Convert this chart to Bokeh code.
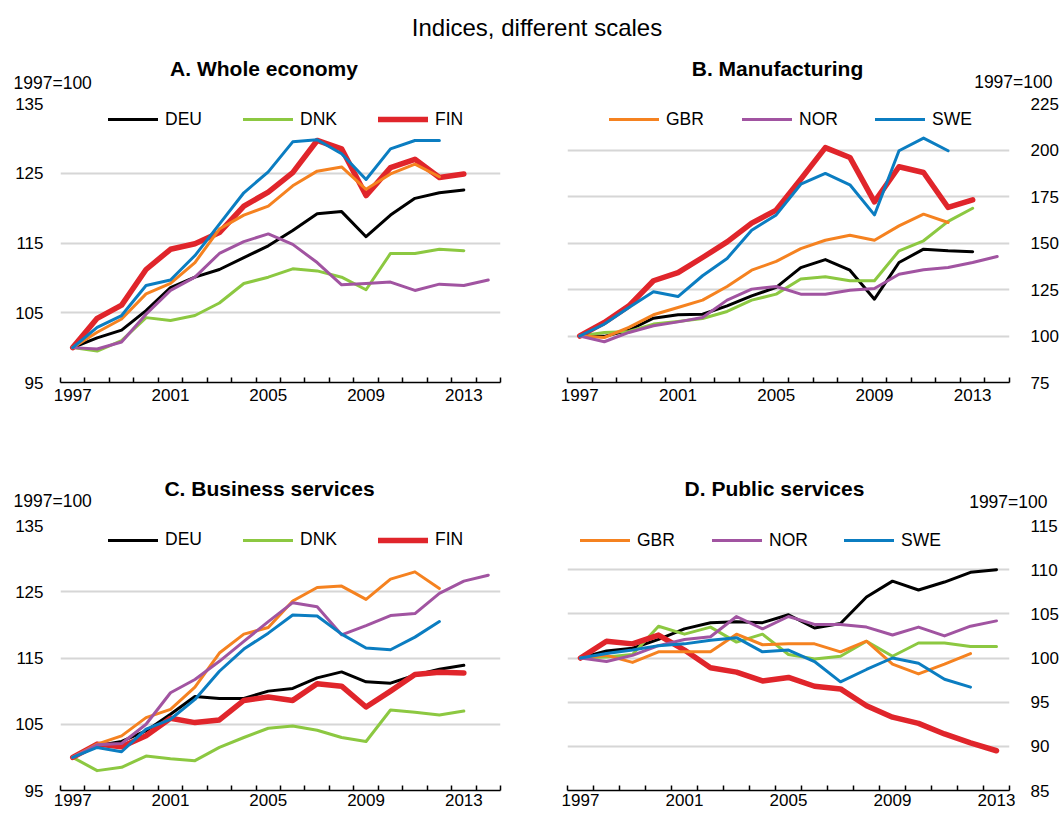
from bokeh.plotting import figure
from bokeh.models import FixedTicker, Legend, LegendItem, Label, Range1d
from bokeh.layouts import column, row
from bokeh.embed import file_html
from bokeh.resources import INLINE

YEARS = list(range(1997, 2015))
SERIES = ["DEU", "DNK", "FIN", "GBR", "NOR", "SWE"]
COLORS = {"DEU": "#000000", "DNK": "#8cc841", "FIN": "#e0252b",
          "GBR": "#f58220", "NOR": "#a154a1", "SWE": "#0b7dc1"}
WIDTHS = {"DEU": 3, "DNK": 3, "FIN": 5.5, "GBR": 3, "NOR": 3, "SWE": 3}

MAIN_TITLE = "Indices, different scales"
UNIT = "1997=100"
X_LABEL_YEARS = [1997, 2001, 2005, 2009, 2013]

# A. Whole economy
A_TITLE = "A. Whole economy"
A_TICKS = [95, 105, 115, 125, 135]
A_DATA = {
    "DEU": [100, 101.4, 102.5, 105.3, 108.6, 110.1, 111.2, 112.9, 114.6, 116.8, 119.2, 119.5, 115.9, 119.0, 121.4, 122.2, 122.6],
    "DNK": [100, 99.5, 101.0, 104.3, 103.9, 104.6, 106.4, 109.2, 110.1, 111.3, 111.0, 110.1, 108.3, 113.5, 113.5, 114.1, 113.9],
    "FIN": [100, 104.2, 106.1, 111.2, 114.1, 114.9, 116.5, 120.3, 122.3, 125.1, 129.7, 128.5, 121.8, 125.8, 127.0, 124.4, 124.9],
    "GBR": [100, 102.2, 104.1, 107.7, 109.2, 112.2, 117.0, 119.0, 120.3, 123.2, 125.3, 125.9, 122.7, 124.9, 126.3, 124.5],
    "NOR": [100, 99.8, 100.8, 104.8, 108.2, 110.1, 113.5, 115.2, 116.3, 114.8, 112.2, 109.0, 109.2, 109.4, 108.2, 109.1, 108.9, 109.7],
    "SWE": [100, 102.9, 104.6, 108.9, 109.7, 113.2, 117.7, 122.2, 125.2, 129.5, 129.8, 127.8, 124.1, 128.5, 129.7, 129.7],
}

# B. Manufacturing
B_TITLE = "B. Manufacturing"
B_TICKS = [75, 100, 125, 150, 175, 200, 225]
B_DATA = {
    "DEU": [100, 99.8, 103.1, 109.6, 111.4, 111.7, 116.2, 121.6, 126.1, 136.8, 141.1, 135.4, 119.8, 139.5, 146.7, 145.8, 145.3],
    "DNK": [100, 101.9, 102.4, 106.4, 107.8, 109.4, 113.2, 119.3, 122.5, 130.6, 131.8, 129.7, 129.7, 145.8, 151.2, 161.6, 168.7],
    "FIN": [100, 107.3, 116.2, 129.7, 134.1, 142.2, 150.6, 160.7, 167.7, 184.3, 201.3, 196.0, 172.1, 191.0, 187.9, 169.1, 173.2],
    "GBR": [100, 99.2, 104.6, 111.4, 115.3, 119.3, 126.6, 135.4, 140.1, 147.0, 151.5, 154.2, 151.5, 159.2, 165.5, 161.0],
    "NOR": [100, 96.9, 101.9, 105.5, 107.6, 110.0, 119.3, 125.2, 126.6, 122.5, 122.5, 124.6, 125.5, 133.2, 135.6, 136.8, 139.5, 142.7],
    "SWE": [100, 106.4, 115.3, 123.8, 121.2, 132.4, 141.7, 156.9, 165.1, 181.6, 187.4, 181.3, 165.1, 199.6, 206.4, 199.6],
}

# C. Business services
C_TITLE = "C. Business services"
C_TICKS = [95, 105, 115, 125, 135]
C_DATA = {
    "DEU": [100, 101.75, 102.4, 104.0, 106.5, 109.2, 108.9, 108.9, 110.0, 110.4, 112.0, 112.9, 111.4, 111.2, 112.4, 113.3, 113.9],
    "DNK": [100, 98.0, 98.5, 100.2, 99.8, 99.5, 101.5, 103.0, 104.4, 104.75, 104.1, 103.0, 102.4, 107.15, 106.8, 106.4, 107.0],
    "FIN": [100, 102.0, 101.6, 103.25, 105.9, 105.25, 105.65, 108.6, 109.1, 108.6, 111.1, 110.75, 107.6, 110.0, 112.5, 112.85, 112.75],
    "GBR": [100, 102.0, 103.25, 106.0, 107.25, 110.6, 115.75, 118.6, 119.6, 123.6, 125.65, 125.85, 123.85, 126.9, 128.0, 125.5],
    "NOR": [100, 101.9, 102.1, 105.0, 109.75, 111.75, 114.5, 117.5, 120.5, 123.35, 122.75, 118.5, 119.9, 121.4, 121.7, 124.75, 126.6, 127.5],
    "SWE": [100, 101.5, 100.85, 104.25, 105.75, 108.75, 113.0, 116.35, 118.75, 121.5, 121.35, 118.6, 116.5, 116.25, 118.15, 120.5],
}

# D. Public services
D_TITLE = "D. Public services"
D_TICKS = [85, 90, 95, 100, 105, 110, 115]
D_DATA = {
    "DEU": [100, 100.8, 101.1, 102.1, 103.3, 104.0, 104.1, 104.0, 104.9, 103.4, 103.9, 106.9, 108.7, 107.7, 108.6, 109.7, 110.0],
    "DNK": [100, 100.1, 100.4, 103.6, 102.7, 103.5, 101.8, 102.7, 100.4, 99.9, 100.2, 101.9, 100.2, 101.7, 101.7, 101.3, 101.3],
    "FIN": [100, 101.9, 101.6, 102.6, 100.9, 98.9, 98.4, 97.4, 97.8, 96.8, 96.5, 94.6, 93.3, 92.6, 91.4, 90.4, 89.5],
    "GBR": [100, 100.3, 99.5, 100.7, 100.7, 100.7, 102.7, 101.5, 101.6, 101.6, 100.7, 101.9, 99.3, 98.2, 99.3, 100.5],
    "NOR": [100, 99.6, 100.3, 101.4, 102.1, 102.4, 104.7, 103.3, 104.7, 103.8, 103.8, 103.5, 102.6, 103.5, 102.5, 103.6, 104.2],
    "SWE": [100, 100.5, 100.9, 101.4, 101.6, 102.0, 102.3, 100.7, 100.9, 99.6, 97.3, 98.7, 100.0, 99.4, 97.6, 96.7],
}

SANS = "Liberation Sans"
TICK_FONT = "17px"
SMALL_FONT = "17.5px"


def panel(data, ticks, last_year, side, legend_keys, cfg):
    w, h = cfg["w"], cfg["h"]
    bl, br, bt, bb = cfg["bl"], cfg["br"], cfg["bt"], cfg["bb"]
    fh = h - bt - bb
    p = figure(width=w, height=h, output_backend="svg", toolbar_location=None,
               x_range=Range1d(YEARS[0] - 0.5, last_year + 0.5),
               y_range=Range1d(ticks[0], ticks[-1]),
               y_axis_location=side,
               min_border_left=bl, min_border_right=br,
               min_border_top=bt, min_border_bottom=bb)
    p.outline_line_color = None
    p.background_fill_color = "white"
    p.border_fill_color = "white"
    p.xgrid.visible = False
    p.ygrid.ticker = FixedTicker(ticks=ticks)
    p.ygrid.grid_line_color = "#d6d6d6"
    p.ygrid.grid_line_width = 2

    xa = p.xaxis[0]
    xa.ticker = FixedTicker(ticks=X_LABEL_YEARS,
                            minor_ticks=[y - 0.5 for y in range(YEARS[0], last_year + 2)])
    xa.axis_line_color = "black"
    xa.axis_line_width = 1.6
    xa.major_tick_in = 0
    xa.major_tick_out = 0
    xa.major_tick_line_color = None
    xa.minor_tick_in = 5
    xa.minor_tick_out = 0
    xa.minor_tick_line_color = "black"
    xa.minor_tick_line_width = 1.5
    xa.major_label_standoff = cfg["xstand"]
    xa.major_label_text_font = SANS
    xa.major_label_text_font_size = TICK_FONT
    xa.major_label_text_color = "black"

    ya = p.yaxis[0]
    ya.ticker = FixedTicker(ticks=ticks)
    ya.axis_line_color = None
    ya.major_tick_line_color = None
    ya.minor_tick_line_color = None
    ya.major_tick_in = 0
    ya.major_tick_out = 0
    ya.minor_tick_in = 0
    ya.minor_tick_out = 0
    ya.major_label_standoff = cfg["ystand"]
    ya.major_label_text_font = SANS
    ya.major_label_text_font_size = TICK_FONT
    ya.major_label_text_color = "black"

    rends = {}
    for k in SERIES:
        vals = data[k]
        rends[k] = p.line(YEARS[:len(vals)], vals, line_color=COLORS[k],
                          line_width=WIDTHS[k], line_join="round", line_cap="round")

    items = [LegendItem(label=k, renderers=[rends[k]]) for k in legend_keys]
    leg = Legend(items=items, orientation="horizontal",
                 location=(cfg["lx"], fh - cfg["ly"] - 12),
                 padding=0, margin=0, spacing=cfg["lsp"],
                 glyph_width=50, glyph_height=24, label_height=24,
                 label_width=cfg["lw"], label_standoff=7,
                 border_line_color=None, background_fill_alpha=0,
                 label_text_font=SANS, label_text_font_size=SMALL_FONT,
                 label_text_color="black")
    p.add_layout(leg)
    return p


def header(w, h, entries):
    f = figure(width=w, height=h, output_backend="svg", toolbar_location=None,
               x_range=Range1d(0, w), y_range=Range1d(h, 0),
               x_axis_type=None, y_axis_type=None, min_border=0)
    f.outline_line_color = None
    f.background_fill_color = "white"
    f.border_fill_color = "white"
    for text, x, y, align, size, style in entries:
        f.add_layout(Label(x=x, y=y, text=text, text_font=SANS, text_font_size=size,
                           text_font_style=style, text_align=align,
                           text_baseline="middle", text_color="black"))
    return f


TOTAL_W = 1061
head1 = header(TOTAL_W, 91, [
    (MAIN_TITLE, 536.5, 26.5, "center", "24px", "normal"),
    (A_TITLE, 263.5, 68, "center", "21px", "bold"),
    (UNIT, 13, 82, "left", SMALL_FONT, "normal"),
    (B_TITLE, 777, 68, "center", "21px", "bold"),
    (UNIT, 1052, 81.7, "right", SMALL_FONT, "normal"),
])
head2 = header(TOTAL_W, 56, [
    (C_TITLE, 269, 32.7, "center", "21px", "bold"),
    (UNIT, 13, 45, "left", SMALL_FONT, "normal"),
    (D_TITLE, 774, 32.5, "center", "21px", "bold"),
    (UNIT, 1047, 46.5, "right", SMALL_FONT, "normal"),
])

cfgA = dict(w=530, h=364, bl=60, br=30, bt=12, bb=73, xstand=6, ystand=17,
            lx=48, ly=16.3, lsp=8, lw=70)
cfgB = dict(w=531, h=364, bl=37, br=51, bt=12, bb=73, xstand=6, ystand=21,
            lx=42, ly=16.3, lsp=8, lw=68)
cfgC = dict(w=530, h=302, bl=60, br=30, bt=12, bb=23, xstand=3, ystand=17,
            lx=48, ly=16.7, lsp=8, lw=70)
cfgD = dict(w=531, h=302, bl=37, br=51, bt=14, bb=23, xstand=3, ystand=21,
            lx=13, ly=15, lsp=8, lw=67)

pA = panel(A_DATA, A_TICKS, 2014, "left", ["DEU", "DNK", "FIN"], cfgA)
pB = panel(B_DATA, B_TICKS, 2014, "right", ["GBR", "NOR", "SWE"], cfgB)
pC = panel(C_DATA, C_TICKS, 2014, "left", ["DEU", "DNK", "FIN"], cfgC)
pD = panel(D_DATA, D_TICKS, 2013, "right", ["GBR", "NOR", "SWE"], cfgD)

layout = column(head1, row(pA, pB), head2, row(pC, pD))

open("out.html", "w").write(file_html(layout, INLINE))
